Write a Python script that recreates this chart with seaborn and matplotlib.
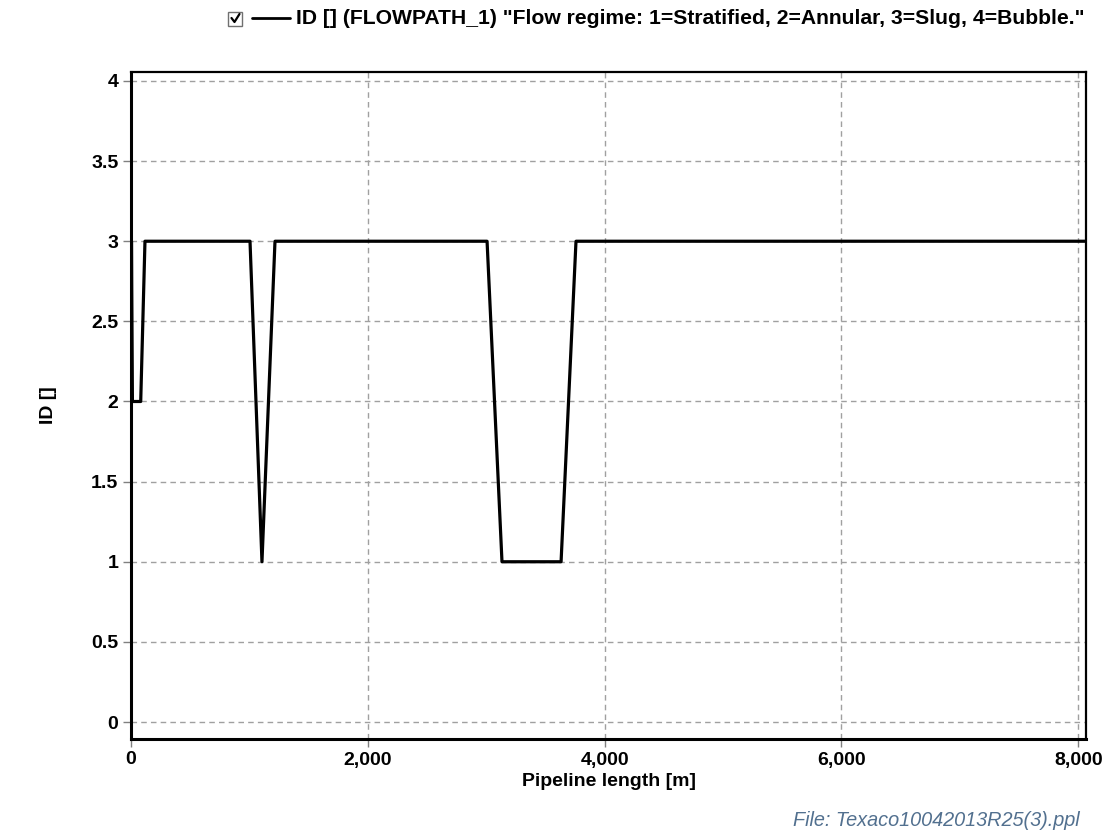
import matplotlib
matplotlib.use("Agg")
import matplotlib.pyplot as plt
import seaborn as sns
import pandas as pd
from matplotlib.patches import Rectangle
from matplotlib.lines import Line2D

# ---- data ----
pipeline_length = [0, 4, 12, 82, 118, 1005, 1106, 1216, 3007, 3133, 3632, 3758, 8070]
flow_regime = [1, 3, 2, 2, 3, 3, 1, 3, 3, 1, 1, 3, 3]
x_ticks = [0, 2000, 4000, 6000, 8000]
x_tick_labels = ["0", "2,000", "4,000", "6,000", "8,000"]
y_ticks = [0, 0.5, 1, 1.5, 2, 2.5, 3, 3.5, 4]
y_tick_labels = ["0", "0.5", "1", "1.5", "2", "2.5", "3", "3.5", "4"]
legend_label = 'ID [] (FLOWPATH_1) "Flow regime: 1=Stratified, 2=Annular, 3=Slug, 4=Bubble."'
x_label = "Pipeline length [m]"
y_label = "ID []"
file_note = "File: Texaco10042013R25(3).ppl"

df = pd.DataFrame({"x": pipeline_length, "y": flow_regime})

sns.set_theme(style="white")
plt.rcParams["font.family"] = ["Liberation Sans", "DejaVu Sans"]

W, H = 1109, 833
fig = plt.figure(figsize=(W / 100, H / 100), dpi=100)
ax = fig.add_axes([131 / W, (H - 739) / H, (1086 - 131) / W, (739 - 72) / H])

sns.lineplot(data=df, x="x", y="y", ax=ax, color="black", linewidth=2.3,
             estimator=None, sort=False, legend=False)

ax.set_xlim(0, 8065)
ax.set_ylim(-0.106, 4.056)
ax.set_xticks(x_ticks)
ax.set_xticklabels(x_tick_labels)
ax.set_yticks(y_ticks)
ax.set_yticklabels(y_tick_labels)

ax.grid(True, color="#a0a0a0", linestyle=(0, (4, 3)), linewidth=1.0)
ax.set_axisbelow(True)
for s in ax.spines.values():
    s.set_color("black")
    s.set_linewidth(1.6)
ax.spines["left"].set_linewidth(2.2)
ax.spines["bottom"].set_linewidth(2.2)

ax.tick_params(axis="both", which="major", direction="out", length=6, width=1,
               color="#808080", labelsize=14, labelcolor="black", pad=3,
               bottom=True, left=True)
for lbl in ax.get_xticklabels() + ax.get_yticklabels():
    lbl.set_fontweight("bold")

ax.set_xlabel(x_label, fontsize=14, fontweight="bold", color="black", labelpad=3)
ax.set_ylabel(y_label, fontsize=14, fontweight="bold", color="black")
ax.yaxis.set_label_coords(-0.078, 0.5)

# legend at the top: checkbox, line sample, text
cb = Rectangle((228 / W, (H - 26) / H), 14 / W, 14 / H, transform=fig.transFigure,
               facecolor="white", edgecolor="#707070", linewidth=1.0)
fig.patches.append(cb)
fig.lines.append(Line2D([231.5 / W, 234.5 / W, 239.5 / W],
                        [(H - 18) / H, (H - 22) / H, (H - 14) / H],
                        transform=fig.transFigure, color="black", linewidth=1.6))
fig.lines.append(Line2D([252 / W, 290 / W], [(H - 18) / H, (H - 18) / H],
                        transform=fig.transFigure, color="black", linewidth=2.0))
fig.text(296 / W, (H - 18) / H, legend_label, fontsize=15.2, fontweight="bold",
         ha="left", va="center", color="black")

fig.text(1080 / W, (H - 820) / H, file_note, fontsize=14.3, style="italic",
         ha="right", va="center", color="#52708f")

fig.savefig("out.png", dpi=100, facecolor="white")
